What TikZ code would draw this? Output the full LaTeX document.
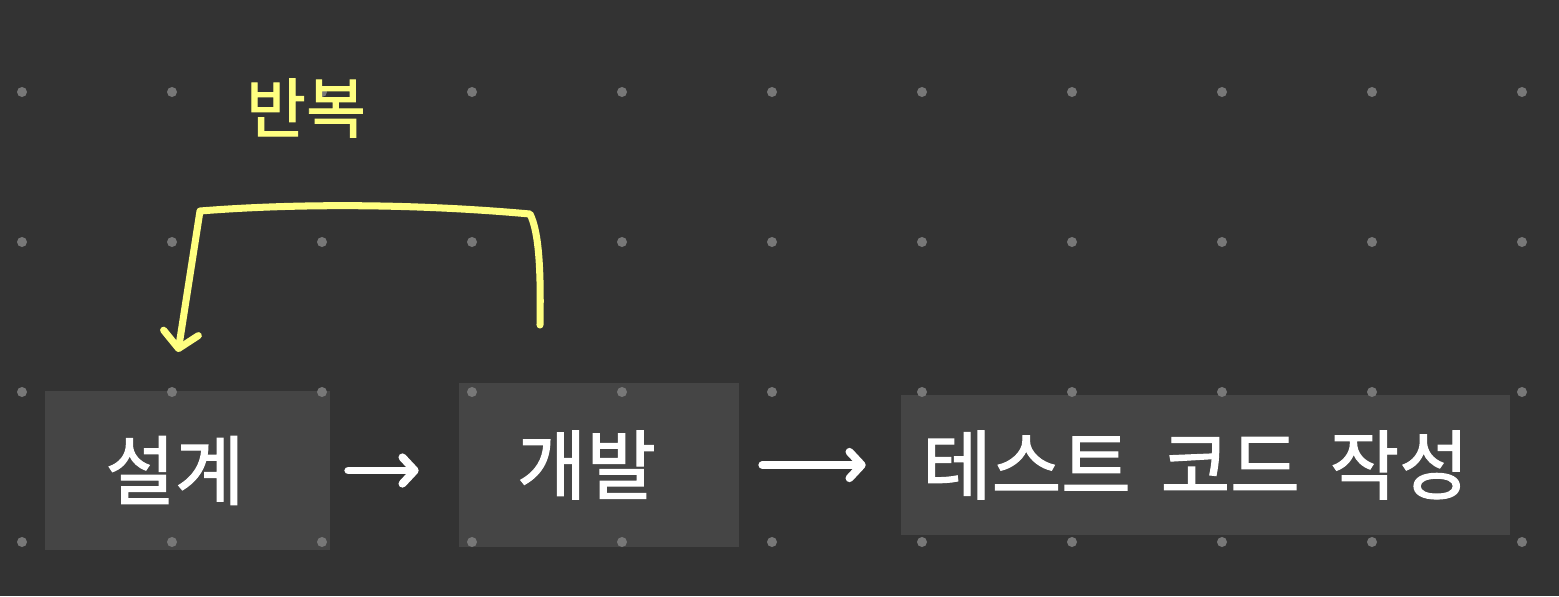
\documentclass[tikz,border=0pt]{standalone}
\usepackage{fontspec}
\usepackage{tikz}
\usetikzlibrary{positioning,arrows.meta,calc}
\newfontfamily\krfont{Noto Sans CJK KR}[FakeBold=1.5]
\definecolor{bgdark}{HTML}{333333}
\definecolor{boxgrey}{HTML}{454545}
\definecolor{dotgrey}{HTML}{787878}
\definecolor{loopyellow}{HTML}{FFFF80}
\definecolor{inkwhite}{HTML}{FFFFFF}

\begin{document}
\begin{tikzpicture}[x=0.02cm,y=-0.02cm,
  stepbox/.style={fill=boxgrey,inner sep=0pt,font=\krfont\fontsize{43}{50}\selectfont,text=inkwhite},
  flow/.style={draw=inkwhite,line width=4.5pt,line cap=round,
    -{Straight Barb[length=7pt,width=15pt,line cap=round,line join=round]}},
  backarc/.style={draw=loopyellow,line width=4pt,line cap=round,line join=round,
    -{Straight Barb[length=9pt,width=20pt,line cap=round,line join=round]}},
  looplbl/.style={font=\krfont\fontsize{37}{44}\selectfont,text=loopyellow,inner sep=0pt}]
\fill[bgdark] (0,0) rectangle (1559,596);
\useasboundingbox (0,0) rectangle (1559,596);
% steps
\node[stepbox,minimum width=5.7cm,minimum height=3.18cm] (design) at (187.5,470.5) {설계\kern0.5cm};
\node[stepbox,minimum width=5.6cm,minimum height=3.28cm] (develop) at (599,465) {개발\kern0.5cm};
\node[stepbox,minimum width=12.18cm,minimum height=2.8cm] (testcode) at (1205.5,465) {테스트\hspace{0.6cm}코드\hspace{0.6cm}작성\kern0.4cm};
% grid dots
\foreach \gx in {0,...,10}
  \foreach \gy in {0,...,3}
    \fill[dotgrey] (22+150*\gx,92+150*\gy) circle (0.1cm);
% flow arrows
\draw[flow,shorten <=0.36cm,shorten >=0.8cm] (design.east) -- (design.east -| develop.west);
\draw[flow,shorten <=0.46cm,shorten >=0.7cm] (develop.east) -- (develop.east -| testcode.west);
% repeat loop
\coordinate (loopstart) at (540,325);
\coordinate (loopend) at (178,352);
\draw[backarc] (loopstart) .. controls (541,270) and (539,232) .. (530,214)
  .. controls (420,204) and (300,203) .. (200,211) -- (loopend);
\node[looplbl] (repeatlbl) at (306,108) {반복};
\end{tikzpicture}
\end{document}
